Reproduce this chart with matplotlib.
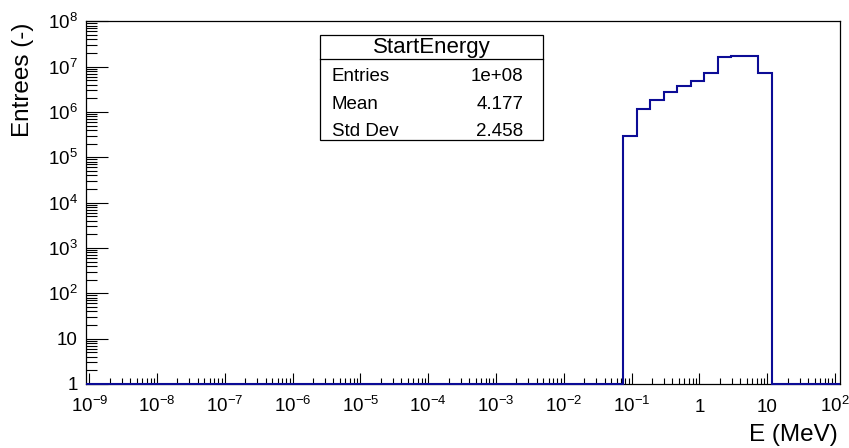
import numpy as np
import matplotlib
matplotlib.use("Agg")
import matplotlib.pyplot as plt
from matplotlib.patches import Rectangle
from matplotlib.lines import Line2D

plt.rcParams['font.family'] = ['Liberation Sans', 'DejaVu Sans']
plt.rcParams['mathtext.fontset'] = 'custom'
plt.rcParams['mathtext.rm'] = 'Liberation Sans'
plt.rcParams['mathtext.it'] = 'Liberation Sans'

# histogram data
bin_edges = [0.0752, 0.1189, 0.1879, 0.2972, 0.4699, 0.7430,
             1.175, 1.858, 2.938, 4.645, 7.345, 11.61]
counts = [2.95e5, 1.16e6, 1.84e6, 2.72e6, 3.80e6, 4.75e6,
          7.12e6, 1.61e7, 1.71e7, 1.71e7, 7.35e6]

x_range = (10 ** -9.044, 10 ** 2.066)
y_range = (1, 1e8)

x_ticks = [10.0 ** k for k in range(-9, 3)]
x_labels = ['$10^{-9}$', '$10^{-8}$', '$10^{-7}$', '$10^{-6}$', '$10^{-5}$',
            '$10^{-4}$', '$10^{-3}$', '$10^{-2}$', '$10^{-1}$', '1', '10', '$10^{2}$']
y_ticks = [10.0 ** k for k in range(0, 9)]
y_labels = ['1', '10', '$10^{2}$', '$10^{3}$', '$10^{4}$', '$10^{5}$',
            '$10^{6}$', '$10^{7}$', '$10^{8}$']

hist_name = 'StartEnergy'
stat_names = ['Entries', 'Mean', 'Std Dev']
stat_values = ['1e+08', '4.177', '2.458']

W, H = 849, 448
fig = plt.figure(figsize=(W / 100, H / 100), dpi=100)
ax = fig.add_axes([86.3 / W, 1 - 384 / H, (839.5 - 86.3) / W, (384 - 21.3) / H])

# empty bins sit on the frame bottom, like ROOT draws them
full_edges = [x_range[0]] + bin_edges + [x_range[1]]
full_vals = [y_range[0]] + counts + [y_range[0]]
ax.stairs(full_vals, full_edges, baseline=None, color='#0c0c96',
          linewidth=1.5, zorder=3, clip_on=False)

ax.set_xscale('log')
ax.set_yscale('log')
ax.set_xlim(*x_range)
ax.set_ylim(*y_range)

ax.set_xticks(x_ticks)
ax.set_xticklabels(x_labels)
ax.set_yticks(y_ticks)
ax.set_yticklabels(y_labels)
ax.xaxis.set_minor_locator(matplotlib.ticker.LogLocator(base=10, subs=np.arange(2, 10), numticks=50))
ax.yaxis.set_minor_locator(matplotlib.ticker.LogLocator(base=10, subs=np.arange(2, 10), numticks=50))
ax.xaxis.set_minor_formatter(matplotlib.ticker.NullFormatter())
ax.yaxis.set_minor_formatter(matplotlib.ticker.NullFormatter())

ax.tick_params(axis='x', which='major', direction='in', length=8, width=0.8, labelsize=13.5, pad=20)
ax.tick_params(axis='x', which='minor', direction='in', length=4, width=0.8)
ax.tick_params(axis='y', which='major', direction='in', length=16, width=0.8, labelsize=13.5, pad=6)
ax.tick_params(axis='y', which='minor', direction='in', length=8, width=0.8)
for lab in ax.get_xticklabels():
    lab.set_va('baseline')
for s in ax.spines.values():
    s.set_linewidth(0.9)

fig.text(838 / W, 1 - 435 / H, 'E (MeV)', ha='right', va='center', fontsize=17.5)
fig.text(23 / W, 1 - 23 / H, 'Entrees (-)', ha='center', va='top', rotation=90, fontsize=17.5)

# stats box
bx0, bx1, by0, by1 = 320, 543, 35, 140
fig.add_artist(Rectangle((bx0 / W, 1 - by1 / H), (bx1 - bx0) / W, (by1 - by0) / H,
                         transform=fig.transFigure, facecolor='white',
                         edgecolor='black', linewidth=0.9, zorder=5))
fig.add_artist(Line2D([bx0 / W, bx1 / W], [1 - 59.3 / H, 1 - 59.3 / H],
                      transform=fig.transFigure, color='black', linewidth=0.9, zorder=6))
fig.text((bx0 + bx1) / 2 / W, 1 - 48 / H, hist_name, ha='center', va='center',
         fontsize=16, zorder=7)
row_y = [76.7, 104.3, 131]
for name, val, yy in zip(stat_names, stat_values, row_y):
    fig.text((bx0 + 11.5) / W, 1 - yy / H, name, ha='left', va='center', fontsize=13.5, zorder=7)
    fig.text(523.5 / W, 1 - yy / H, val, ha='right', va='center', fontsize=13.5, zorder=7)

fig.savefig('out.png', dpi=100)
